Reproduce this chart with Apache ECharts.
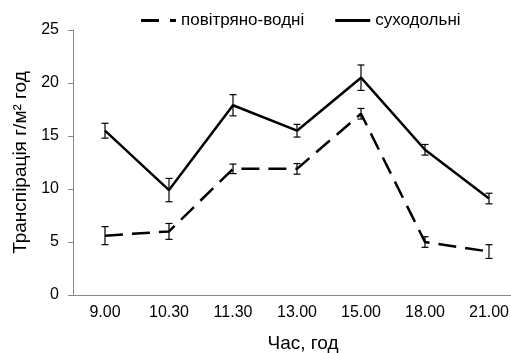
<!DOCTYPE html>
<html>
<head>
<meta charset="utf-8">
<script src="https://cdn.jsdelivr.net/npm/echarts@6/dist/echarts.min.js"></script>
<style>
  html, body { margin: 0; padding: 0; background: #fff; }
  #chart { width: 511px; height: 353px; }
</style>
</head>
<body>
<div id="chart"></div>
<script>
var categories = ["9.00", "10.30", "11.30", "13.00", "15.00", "18.00", "21.00"];
var airWater = [5.6, 6.0, 11.9, 11.9, 17.1, 5.0, 4.1];
var airWaterErr = [0.85, 0.75, 0.45, 0.5, 0.5, 0.5, 0.65];
var land = [15.5, 9.9, 17.9, 15.5, 20.5, 13.7, 9.1];
var landErr = [0.7, 1.1, 1.0, 0.6, 1.2, 0.5, 0.5];

function errData(vals, errs) {
  return vals.map(function (v, i) { return [i, v - errs[i], v + errs[i]]; });
}

// vertical error bar with small caps
function renderErr(params, api) {
  var lo = api.coord([api.value(0), api.value(1)]);
  var hi = api.coord([api.value(0), api.value(2)]);
  var w = 3.5;
  var style = { stroke: "#000", lineWidth: 1.2 };
  return {
    type: "group",
    children: [
      { type: "line", shape: { x1: hi[0], y1: hi[1], x2: lo[0], y2: lo[1] }, style: style },
      { type: "line", shape: { x1: hi[0] - w, y1: hi[1], x2: hi[0] + w, y2: hi[1] }, style: style },
      { type: "line", shape: { x1: lo[0] - w, y1: lo[1], x2: lo[0] + w, y2: lo[1] }, style: style }
    ]
  };
}

var option = {
  animation: false,
  textStyle: { fontFamily: "Liberation Sans, Arial, sans-serif" },
  legend: {
    top: 7,
    left: 136,
    itemWidth: 35,
    itemHeight: 3,
    itemGap: 31,
    textStyle: { fontSize: 17, color: "#000" },
    data: [
      { name: "повітряно-водні", icon: "path://M0,0H18V3H0Z M29,0H35V3H29Z" },
      { name: "суходольні", icon: "path://M0,0H35V3H0Z" }
    ]
  },
  grid: { left: 73, top: 30, bottom: 58, width: 448, outerBoundsMode: "none" },
  xAxis: {
    type: "category",
    data: categories,
    name: "Час, год",
    nameLocation: "middle",
    nameGap: 39,
    nameTextStyle: { fontSize: 19, color: "#000", padding: [0, 0, 0, 12] },
    axisLine: { lineStyle: { color: "#888" } },
    axisTick: { lineStyle: { color: "#888" } },
    axisLabel: { fontSize: 16, color: "#000", margin: 10 }
  },
  yAxis: {
    type: "value",
    min: 0,
    max: 25,
    interval: 5,
    name: "Транспірація г/м² год",
    nameLocation: "middle",
    nameGap: 42,
    nameTextStyle: { fontSize: 19, color: "#000" },
    axisLine: { show: true, lineStyle: { color: "#888" } },
    axisTick: { show: true, lineStyle: { color: "#888" } },
    axisLabel: { fontSize: 16, color: "#000", margin: 14 },
    splitLine: { show: false }
  },
  series: [
    {
      name: "повітряно-водні",
      type: "line",
      data: airWater,
      symbol: "none",
      lineStyle: { color: "#000", width: 2.5, type: [18, 9] },
      itemStyle: { color: "#000" }
    },
    {
      name: "суходольні",
      type: "line",
      data: land,
      symbol: "none",
      lineStyle: { color: "#000", width: 2.5 },
      itemStyle: { color: "#000" }
    },
    {
      type: "custom",
      data: errData(airWater, airWaterErr),
      renderItem: renderErr,
      encode: { x: 0, y: [1, 2] },
      z: 5
    },
    {
      type: "custom",
      data: errData(land, landErr),
      renderItem: renderErr,
      encode: { x: 0, y: [1, 2] },
      z: 5
    }
  ]
};

var myChart = echarts.init(document.getElementById("chart"));
myChart.setOption(option);
</script>
</body>
</html>
